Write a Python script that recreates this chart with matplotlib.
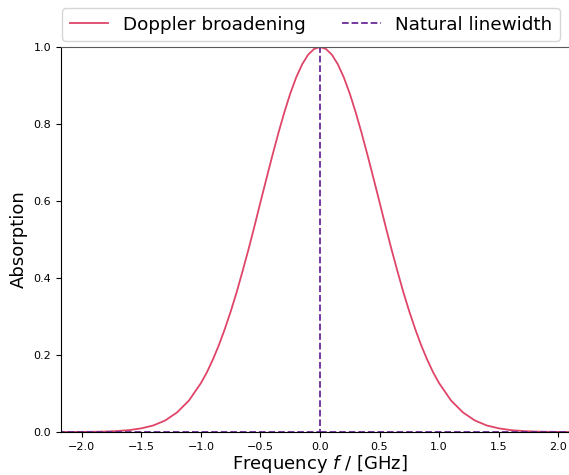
#!/usr/bin/env python3

import matplotlib
matplotlib.use("Agg")
import matplotlib.pyplot as plt

# Doppler broadened profile (symmetric about 0)
freq = [-2.2, -2.1, -2.0, -1.9, -1.8, -1.7, -1.6, -1.5, -1.4, -1.3, -1.2, -1.1,
        -1.0, -0.95, -0.9, -0.85, -0.8, -0.75, -0.7, -0.65, -0.6, -0.55, -0.5,
        -0.45, -0.4, -0.35, -0.3, -0.25, -0.2, -0.15, -0.1, -0.05, 0.0,
        0.05, 0.1, 0.15, 0.2, 0.25, 0.3, 0.35, 0.4, 0.45, 0.5, 0.55, 0.6,
        0.65, 0.7, 0.75, 0.8, 0.85, 0.9, 0.95, 1.0,
        1.1, 1.2, 1.3, 1.4, 1.5, 1.6, 1.7, 1.8, 1.9, 2.0, 2.1, 2.2]
doppler = [0.0, 0.0001, 0.0003, 0.0006, 0.0012, 0.0026, 0.005, 0.0096, 0.017,
           0.030, 0.051, 0.082,
           0.127, 0.155, 0.188, 0.225, 0.267, 0.313, 0.363, 0.418, 0.475,
           0.535, 0.597, 0.658, 0.718, 0.776, 0.830, 0.879, 0.921, 0.955,
           0.980, 0.995, 1.0,
           0.995, 0.980, 0.955, 0.921, 0.879, 0.830, 0.776, 0.718, 0.658,
           0.597, 0.535, 0.475, 0.418, 0.363, 0.313, 0.267, 0.225, 0.188,
           0.155, 0.127,
           0.082, 0.051, 0.030, 0.017, 0.0096, 0.005, 0.0026, 0.0012, 0.0006,
           0.0003, 0.0001, 0.0]

# natural linewidth: a spike at 0 (nan breaks the path so the
# way back down doesn't draw over the dashes)
nan = float("nan")
freq_nat = [-2.2, 0.0, 0.0, nan, 0.0, 2.2]
natural = [0.0, 0.0, 1.0, nan, 0.0, 0.0]

fig = plt.figure(figsize=(5.69, 4.75), dpi=100)
ax = fig.add_axes([0.1072, 0.0905, 0.9104, 0.8105])

l1, = ax.plot(freq, doppler, color="#df4569", lw=1.3, label="Doppler broadening")
l2, = ax.plot(freq_nat, natural, color="#6a2a98", lw=1.3, ls="--",
              label="Natural linewidth")

ax.set_xlim(-2.175, 2.175)
ax.set_ylim(0, 1)
ax.set_xticks([-2.0, -1.5, -1.0, -0.5, 0.0, 0.5, 1.0, 1.5, 2.0])
ax.set_yticks([0.0, 0.2, 0.4, 0.6, 0.8, 1.0])
ax.tick_params(labelsize=8)
ax.spines["top"].set_color("0.35")
ax.set_xlabel("Frequency $f$ / [GHz]", fontsize=13, labelpad=1)
ax.set_ylabel("Absorption", fontsize=13)

fig.legend(handles=[l1, l2], loc="center", bbox_to_anchor=(311/569, 0.948),
           ncol=2, fontsize=13.2, handlelength=2.1)

fig.savefig("out.png", dpi=100)
